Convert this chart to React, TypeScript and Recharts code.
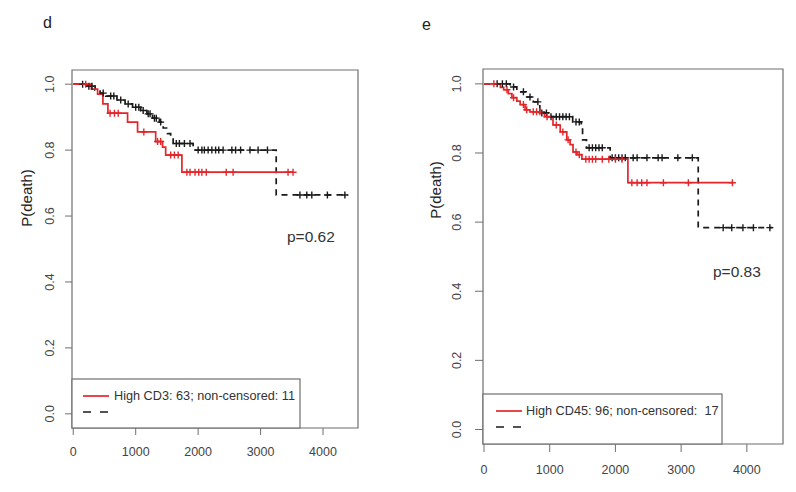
import React from 'react';
import { ComposedChart, Line, Scatter, XAxis, YAxis, ReferenceArea } from 'recharts';

// ---------- data ----------
const xTicks = [0, 1000, 2000, 3000, 4000];
const yTicks = [0, 0.2, 0.4, 0.6, 0.8, 1.0];

// Panel d: CD3
const cd3HighTimes = [0, 290, 390, 475, 555, 870, 1030, 1320, 1430, 1480, 1740, 3520];
const cd3HighSurv = [1.0, 0.985, 0.97, 0.94, 0.912, 0.885, 0.855, 0.826, 0.809, 0.785, 0.733, 0.733];
const cd3HighCensored = [200, 590, 660, 720, 1130, 1350, 1400, 1560, 1620, 1680, 1820, 1870, 1950, 2010, 2060, 2130, 2450, 2560, 3440, 3520];

const cd3LowTimes = [0, 200, 350, 430, 520, 700, 830, 950, 1080, 1180, 1270, 1380, 1440, 1510, 1560, 1600, 1920, 3250, 4400];
const cd3LowSurv = [1.0, 0.994, 0.982, 0.973, 0.964, 0.952, 0.94, 0.93, 0.92, 0.91, 0.897, 0.885, 0.867, 0.85, 0.836, 0.82, 0.8, 0.664, 0.664];
const cd3LowCensored = [150, 250, 300, 480, 600, 650, 760, 880, 1000, 1050, 1120, 1200, 1230, 1300, 1330, 1400, 1650, 1700, 1780, 1870, 2000, 2060, 2100, 2160, 2220, 2280, 2330, 2400, 2540, 2600, 2680, 2830, 2960, 3110, 3630, 3740, 3820, 4070, 4350];

// Panel e: CD45
const cd45HighTimes = [0, 250, 300, 370, 425, 500, 550, 625, 700, 920, 1050, 1160, 1260, 1310, 1355, 1415, 1490, 2190, 3780];
const cd45HighSurv = [1.0, 0.99, 0.983, 0.972, 0.96, 0.95, 0.94, 0.925, 0.919, 0.905, 0.881, 0.861, 0.838, 0.824, 0.803, 0.795, 0.782, 0.714, 0.714];
const cd45HighCensored = [150, 350, 450, 600, 650, 750, 800, 850, 960, 1100, 1200, 1280, 1400, 1450, 1550, 1600, 1650, 1700, 1800, 1900, 2000, 2100, 2250, 2330, 2400, 2480, 2730, 3110, 3780];

const cd45LowTimes = [0, 400, 500, 650, 750, 850, 1000, 1350, 1480, 1500, 1560, 1920, 3260, 4390];
const cd45LowSurv = [1.0, 0.991, 0.977, 0.962, 0.948, 0.916, 0.905, 0.89, 0.873, 0.838, 0.815, 0.786, 0.584, 0.584];
const cd45LowCensored = [200, 280, 340, 450, 600, 700, 820, 880, 950, 1020, 1100, 1150, 1200, 1250, 1300, 1400, 1450, 1600, 1650, 1700, 1750, 1800, 1950, 2000, 2050, 2100, 2150, 2270, 2330, 2480, 2650, 2710, 2950, 3170, 3640, 3770, 3940, 4100, 4350];

const legendD = 'High CD3: 63; non-censored: 11';
const legendE = 'High CD45: 96; non-censored:  17';
const pD = 'p=0.62';
const pE = 'p=0.83';

// ---------- helpers ----------
const FONT = '"Liberation Sans", Arial, sans-serif';
const RED = '#e4262b';
const BLACK = '#1a1a1a';
const GREY = '#6f6f6f';

function steps(times: number[], surv: number[]) {
  return times.map((t, i) => ({ t, s: surv[i] }));
}
function censorPoints(cens: number[], times: number[], surv: number[]) {
  return cens.map((t) => {
    let s = surv[0];
    for (let i = 0; i < times.length; i++) if (times[i] <= t) s = surv[i];
    return { t, s };
  });
}

const makeCross = (color: string) => (props: any) => {
  const { cx, cy } = props;
  if (cx == null || cy == null) return <g />;
  return (
    <path
      d={`M${cx - 3.5},${cy}H${cx + 3.5}M${cx},${cy - 3.5}V${cy + 3.5}`}
      stroke={color}
      strokeWidth={1.4}
      fill="none"
    />
  );
};

type PanelProps = {
  width: number;
  margin: { top: number; right: number; bottom: number; left: number };
  xDomain: [number, number];
  yDomain: [number, number];
  high: { t: number; s: number }[];
  low: { t: number; s: number }[];
  highC: { t: number; s: number }[];
  lowC: { t: number; s: number }[];
  xLabelDy: number;
  yLabelOff: number;
  tickLen: number;
};

function KMPanel(p: PanelProps) {
  const XTick = (props: any) => (
    <text x={props.x} y={props.y} dy={p.xLabelDy} textAnchor="middle" fontSize={12.5} fill="#444" fontFamily={FONT}>
      {props.payload.value}
    </text>
  );
  const YTick = (props: any) => {
    const cx = props.x - p.yLabelOff;
    const cy = props.y;
    return (
      <text
        x={cx}
        y={cy}
        transform={`rotate(-90, ${cx}, ${cy})`}
        textAnchor="middle"
        dominantBaseline="central"
        fontSize={12.5}
        fill="#444"
        fontFamily={FONT}
      >
        {Number(props.payload.value).toFixed(1)}
      </text>
    );
  };
  return (
    <ComposedChart width={p.width} height={492} margin={p.margin}>
      <XAxis
        type="number"
        dataKey="t"
        domain={p.xDomain}
        ticks={xTicks}
        allowDataOverflow
        height={40}
        axisLine={false}
        tickSize={p.tickLen}
        tickLine={{ stroke: GREY }}
        tick={XTick}
        interval={0}
      />
      <YAxis
        type="number"
        dataKey="s"
        domain={p.yDomain}
        ticks={yTicks}
        allowDataOverflow
        width={40}
        axisLine={false}
        tickSize={p.tickLen}
        tickLine={{ stroke: GREY }}
        tick={YTick}
        interval={0}
      />
      <ReferenceArea
        x1={p.xDomain[0]}
        x2={p.xDomain[1]}
        y1={p.yDomain[0]}
        y2={p.yDomain[1]}
        fill="none"
        fillOpacity={0}
        stroke={GREY}
        strokeWidth={1.2}
        ifOverflow="visible"
      />
      <Line
        data={p.low}
        dataKey="s"
        type="stepAfter"
        stroke={BLACK}
        strokeWidth={1.7}
        strokeDasharray="6 5"
        dot={false}
        isAnimationActive={false}
      />
      <Line
        data={p.high}
        dataKey="s"
        type="stepAfter"
        stroke={RED}
        strokeWidth={1.7}
        dot={false}
        isAnimationActive={false}
      />
      <Scatter data={p.lowC} dataKey="s" shape={makeCross(BLACK)} isAnimationActive={false} />
      <Scatter data={p.highC} dataKey="s" shape={makeCross(RED)} isAnimationActive={false} />
    </ComposedChart>
  );
}

export default function App() {
  const dHigh = steps(cd3HighTimes, cd3HighSurv);
  const dLow = steps(cd3LowTimes, cd3LowSurv);
  const dHighC = censorPoints(cd3HighCensored, cd3HighTimes, cd3HighSurv);
  const dLowC = censorPoints(cd3LowCensored, cd3LowTimes, cd3LowSurv);
  const eHigh = steps(cd45HighTimes, cd45HighSurv);
  const eLow = steps(cd45LowTimes, cd45LowSurv);
  const eHighC = censorPoints(cd45HighCensored, cd45HighTimes, cd45HighSurv);
  const eLowC = censorPoints(cd45LowCensored, cd45LowTimes, cd45LowSurv);

  return (
    <div style={{ position: 'absolute', left: 0, top: 0, width: 796, height: 492, background: '#fff', overflow: 'hidden' }}>
      <div style={{ position: 'absolute', left: 0, top: 0 }}>
        <KMPanel
          width={380}
          margin={{ top: 70, right: 22, bottom: 24, left: 32 }}
          xDomain={[-20, 4560]}
          yDomain={[-0.043, 1.043]}
          high={dHigh}
          low={dLow}
          highC={dHighC}
          lowC={dLowC}
          xLabelDy={18.5}
          yLabelOff={13}
          tickLen={7}
        />
      </div>
      <div style={{ position: 'absolute', left: 400, top: 0 }}>
        <KMPanel
          width={396}
          margin={{ top: 69, right: 13, bottom: 8, left: 43 }}
          xDomain={[-15, 4550]}
          yDomain={[-0.042, 1.043]}
          high={eHigh}
          low={eLow}
          highC={eHighC}
          lowC={eLowC}
          xLabelDy={19.5}
          yLabelOff={16}
          tickLen={8}
        />
      </div>
      <svg width={796} height={492} style={{ position: 'absolute', left: 0, top: 0, pointerEvents: 'none' }}>
        <g fontFamily={FONT}>
          <text x={43} y={28} fontSize={16} fill="#222">d</text>
          <text x={422} y={30} fontSize={16} fill="#222">e</text>
          <text x={26} y={198} transform="rotate(-90, 26, 198)" textAnchor="middle" dominantBaseline="central" fontSize={15} fill="#222">P(death)</text>
          <text x={435} y={190} transform="rotate(-90, 435, 190)" textAnchor="middle" dominantBaseline="central" fontSize={15} fill="#222">P(death)</text>
          <text x={287} y={242} fontSize={15.5} fill="#333">{pD}</text>
          <text x={713} y={277} fontSize={15.5} fill="#333">{pE}</text>

          <rect x={72} y={379} width={228} height={49} fill="#fff" stroke={GREY} strokeWidth={1.2} />
          <line x1={83} y1={396} x2={109} y2={396} stroke={RED} strokeWidth={1.7} />
          <line x1={83} y1={412} x2={109} y2={412} stroke={BLACK} strokeWidth={1.7} strokeDasharray="8 9" />
          <text x={114} y={400} fontSize={12.7} fill="#333" style={{ whiteSpace: 'pre' }}>{legendD}</text>

          <rect x={483} y={394} width={239} height={50} fill="#fff" stroke={GREY} strokeWidth={1.2} />
          <line x1={496} y1={411} x2={522} y2={411} stroke={RED} strokeWidth={1.7} />
          <line x1={496} y1={427} x2={522} y2={427} stroke={BLACK} strokeWidth={1.7} strokeDasharray="8 9" />
          <text x={526} y={415} fontSize={12.7} fill="#333" style={{ whiteSpace: 'pre' }}>{legendE}</text>
        </g>
      </svg>
    </div>
  );
}
